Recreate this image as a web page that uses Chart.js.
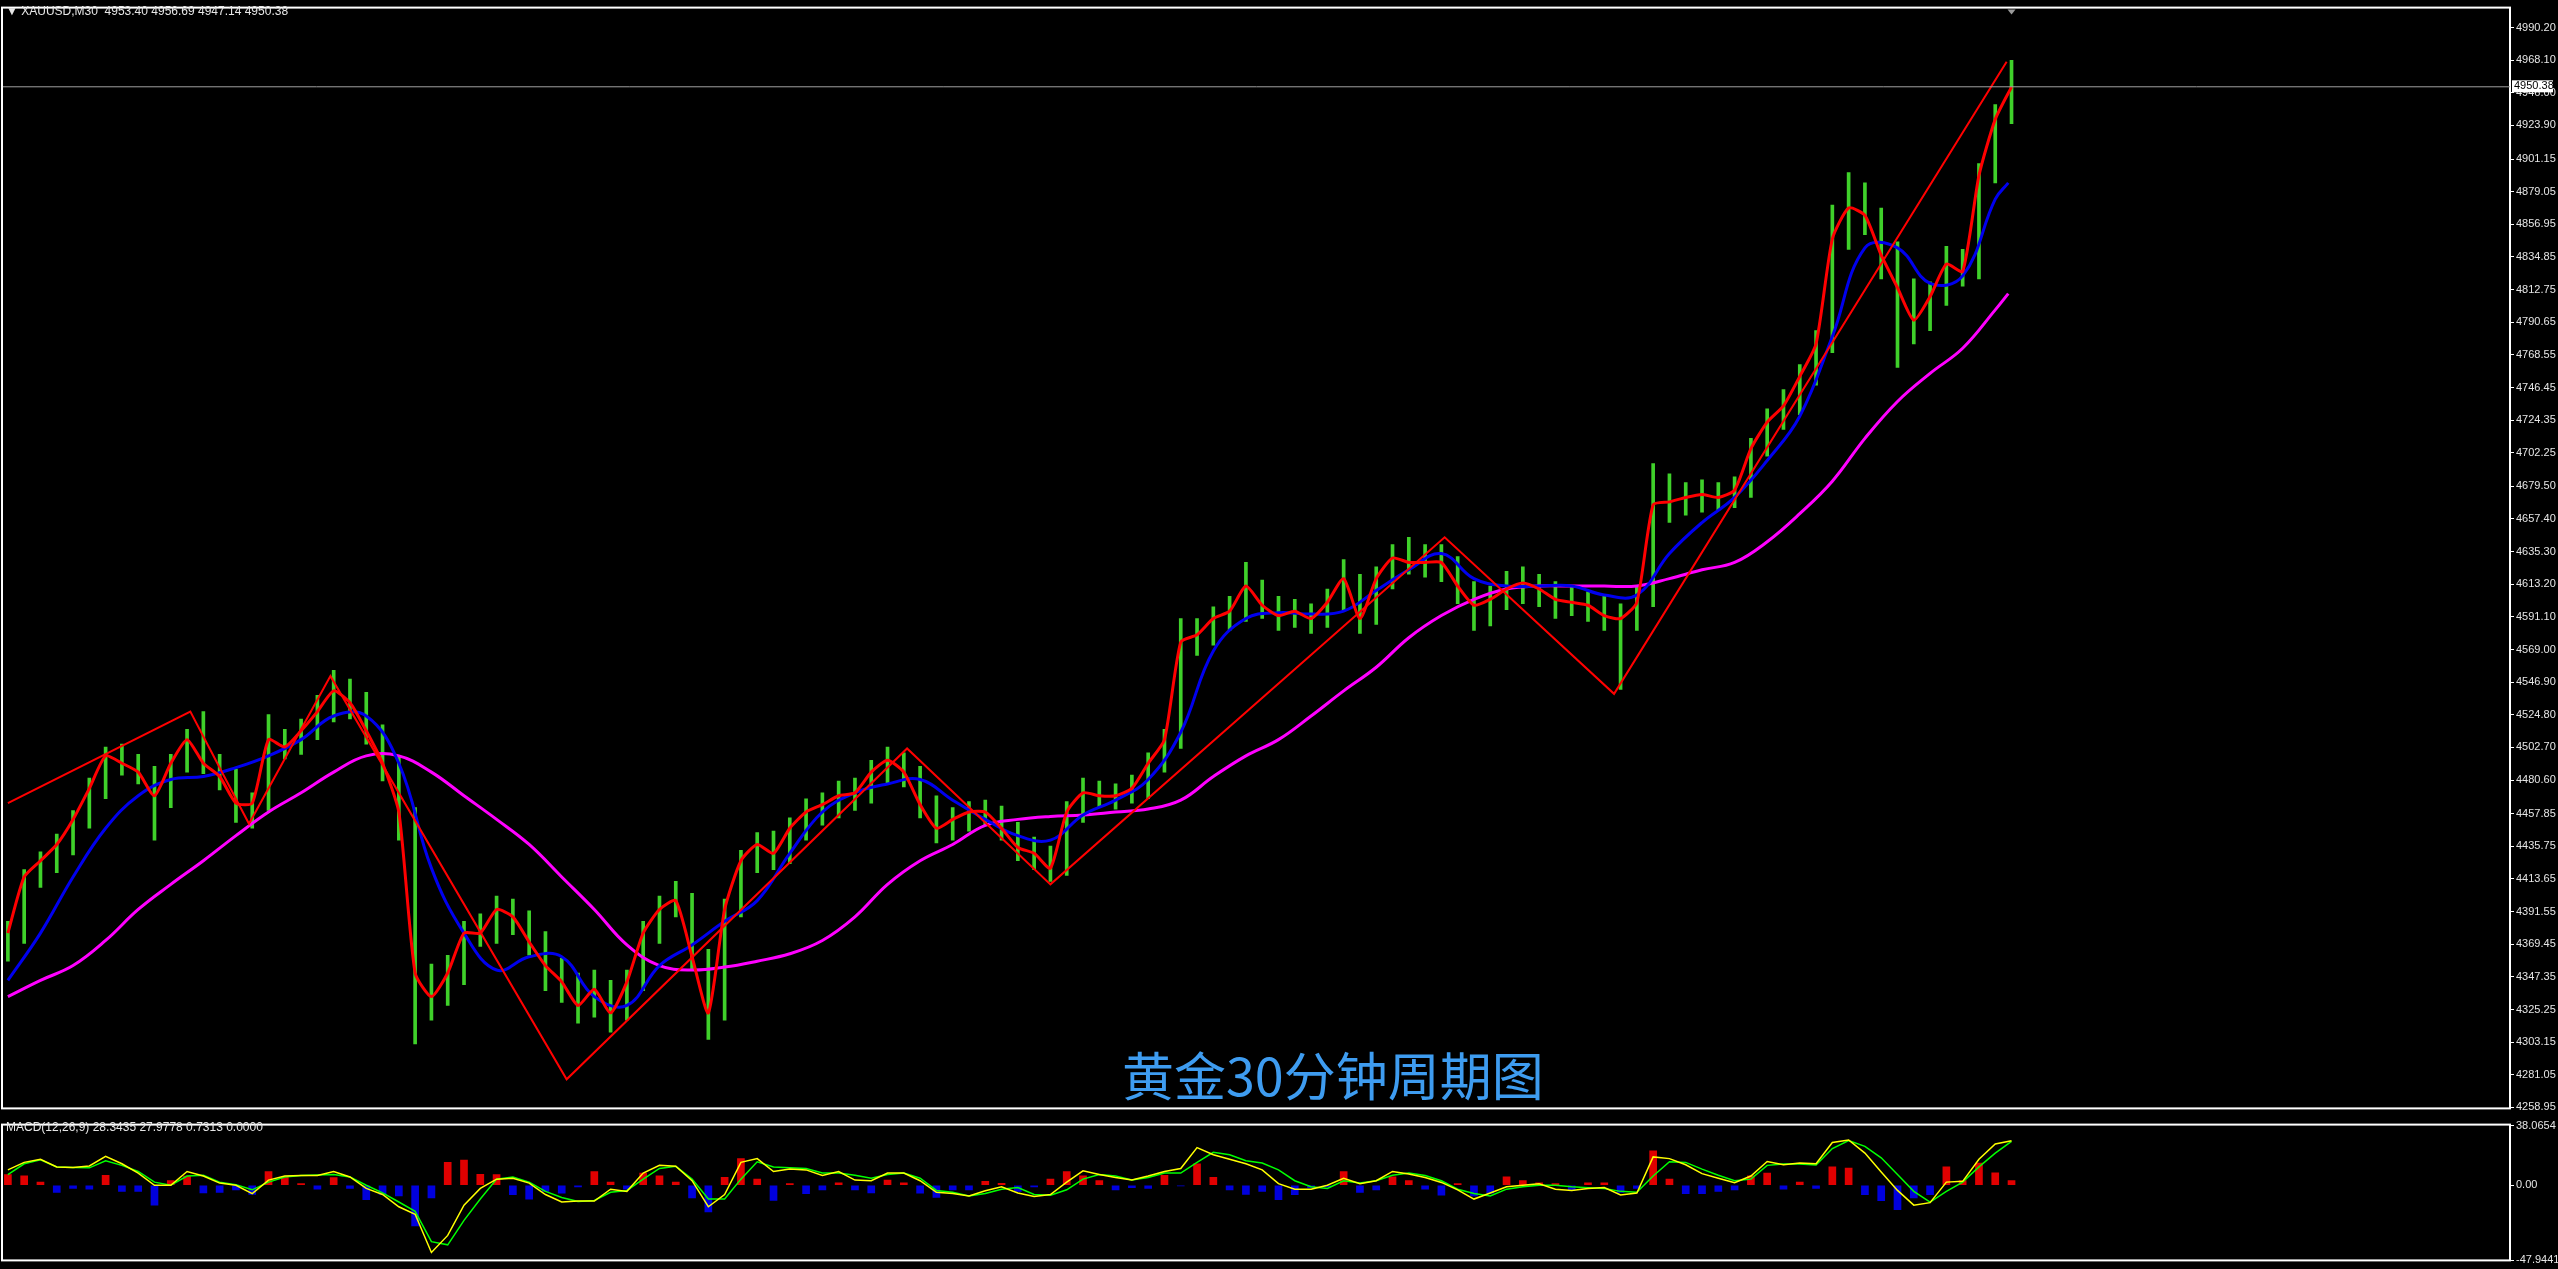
<!DOCTYPE html>
<html><head><meta charset="utf-8">
<script src="https://cdn.jsdelivr.net/npm/chart.js@4.4.1/dist/chart.umd.min.js"></script>
<style>
html,body{margin:0;padding:0;background:#000;overflow:hidden;width:2558px;height:1269px;}
#w1{position:absolute;left:0;top:0;width:2558px;height:1117px;}
#w2{position:absolute;left:0;top:1117px;width:2558px;height:152px;}
.t{position:absolute;color:#e6e6e6;font:12px "Liberation Sans",sans-serif;white-space:nowrap;}
#title{position:absolute;left:1122px;top:1036px;color:#3e9cf0;font:52px "Noto Sans CJK SC",sans-serif;white-space:nowrap;}
</style></head><body>
<div id="w1"><canvas id="c1"></canvas></div>
<div id="w2"><canvas id="c2"></canvas></div>
<div class="t" style="left:6px;top:4px;">▼ XAUUSD,M30&nbsp; 4953.40 4956.69 4947.14 4950.38</div>
<div class="t" style="left:6px;top:1120px;">MACD(12,26,9) 28.3435 27.9778 0.7313 0.0000</div>
<div id="title">黄金30分钟周期图</div>
<script>
// ---- data ----
const closes=[4377,4415,4426,4437,4454,4475,4497,4492,4486,4470,4492,4508,4492,4483,4465,4465,4508,4503,4514,4527,4541,4533,4514,4492,4459,4350,4334,4350,4377,4377,4393,4388,4371,4355,4344,4328,4339,4323,4344,4377,4393,4399,4361,4323,4393,4426,4437,4431,4448,4459,4464,4470,4472,4486,4494,4486,4464,4448,4454,4459,4459,4448,4435,4431,4421,4459,4472,4470,4470,4475,4492,4508,4574,4579,4590,4595,4612,4599,4592,4595,4590,4601,4617,4590,4617,4631,4628,4628,4628,4612,4599,4603,4610,4614,4610,4603,4601,4599,4592,4590,4601,4667,4669,4672,4674,4672,4677,4705,4723,4734,4754,4776,4847,4868,4863,4836,4814,4792,4808,4830,4825,4890,4928,4950];
const highs=[4385,4420,4432,4444,4460,4482,4503,4505,4498,4490,4498,4515,4527,4498,4488,4472,4525,4515,4522,4538,4555,4549,4540,4518,4497,4462,4356,4362,4385,4390,4402,4400,4392,4378,4360,4350,4352,4345,4352,4385,4402,4412,4404,4366,4400,4433,4445,4446,4455,4468,4472,4480,4482,4494,4503,4499,4490,4470,4462,4466,4467,4463,4452,4442,4436,4466,4482,4480,4478,4484,4499,4515,4590,4590,4598,4605,4628,4616,4605,4603,4600,4610,4630,4620,4625,4640,4645,4640,4640,4632,4615,4612,4622,4625,4620,4615,4612,4608,4606,4600,4612,4695,4688,4682,4684,4682,4686,4712,4732,4745,4762,4785,4870,4892,4885,4868,4845,4820,4818,4842,4840,4898,4938,4968];
const lows=[4358,4370,4408,4418,4430,4448,4468,4484,4478,4440,4462,4486,4485,4474,4452,4448,4460,4495,4498,4508,4520,4522,4505,4480,4440,4302,4318,4328,4342,4368,4370,4376,4362,4338,4330,4316,4320,4310,4318,4338,4370,4388,4352,4305,4318,4388,4418,4420,4424,4440,4450,4455,4460,4465,4478,4476,4455,4438,4440,4446,4450,4440,4426,4420,4412,4416,4452,4462,4461,4465,4468,4486,4502,4565,4572,4582,4588,4590,4582,4584,4580,4584,4595,4580,4586,4610,4620,4618,4615,4600,4582,4585,4596,4600,4598,4590,4592,4588,4582,4542,4582,4598,4655,4660,4662,4663,4665,4672,4700,4718,4728,4748,4770,4840,4850,4820,4760,4776,4785,4802,4815,4820,4885,4925];
const maFast=[4345,4377,4415,4448,4470,4481,4483,4489,4497,4508,4524,4524,4492,4421,4377,4352,4361,4361,4334,4328,4355,4369,4385,4399,4431,4459,4472,4478,4481,4467,4454,4443,4440,4457,4467,4481,4513,4568,4590,4594,4593,4595,4609,4623,4634,4617,4612,4612,4612,4606,4606,4634,4655,4672,4697,4727,4781,4841,4841,4817,4822,4874,4885];
const maSlow=[4334,4345,4355,4372,4393,4410,4426,4443,4459,4472,4486,4497,4497,4486,4470,4454,4437,4415,4393,4369,4355,4352,4354,4358,4363,4372,4388,4410,4426,4437,4450,4454,4456,4457,4459,4461,4467,4483,4497,4508,4524,4541,4557,4577,4592,4603,4610,4612,4612,4612,4612,4617,4623,4628,4642,4661,4683,4712,4737,4756,4773,4799,4810];
const zzX=[0,11.2,14.8,19.8,34.3,55.2,64,88.2,98.6,122.7];
const zzY=[4465,4527,4451,4551,4278,4502,4410,4645,4539,4967];
const macdMain=[9.8,14.6,16.6,11.7,11.3,12.3,18.5,13.7,7.8,0,0,8.8,5.9,1.4,0,-5.3,3.3,5.9,6.2,6.2,8.8,5.3,-2,-5.9,-13.7,-18.5,-42.9,-32,-12.7,-2,3.9,4.5,1.4,-5.9,-10.7,-10.1,-10.1,-2.5,-3.9,7.8,12.7,12.1,2.9,-13.7,-5.9,14.6,17,8.8,10.3,9.8,6.2,8.8,3.3,2.9,7.8,7.8,2.9,-4.5,-5.3,-6.8,-3.5,-1,-4.9,-7.2,-5.9,2,9.2,6.8,4.9,3.3,5.9,8.8,10.7,24,19.5,16.6,13.7,9.8,1,-2.5,-2.5,0,4.5,1,2.9,8.8,7.2,4.9,1.8,-2.9,-8.8,-4.9,-1,0,1,-2.5,-3.3,-2,-1.4,-6.2,-4.9,18.1,17,13.1,7.4,4.5,1.6,5.9,15.2,13.1,14.2,13.7,27.3,28.9,20.5,8.4,-3.3,-12.7,-11.1,2,2.5,16.6,26.3,28.34];
const macdSignal=[6.8,13.7,16.2,11.7,11.3,11.1,15.6,12.7,8.8,2,0,5.9,6.4,2,0.4,-2.9,2,5.3,6.2,6.6,6.8,5.3,0,-4.9,-10.7,-16.6,-36,-38,-22.4,-8.8,3.9,5.3,2,-3.9,-7.8,-10.3,-9.75,-4.5,-3.3,3.9,10.7,12.1,3.9,-8.8,-8.8,3.9,15,11.7,11.1,10.7,7.8,7.8,6.4,4.5,6.8,7.8,4.5,-3.3,-4.5,-6.8,-5.3,-2.5,-1.4,-5.9,-6.4,-2.9,3.9,6.8,5.9,3.3,4.9,7.8,7.8,14.6,21,19.5,15.6,14.2,9.8,2.9,-1,-2,2.9,1.4,2.9,6.4,7.8,6.2,2.9,-2.5,-5.3,-6.8,-2.5,-1,0,0,-1,-1.6,-2,-3.9,-4.5,5.9,15,14.6,10.3,6.4,2.9,3.9,12.7,13.5,13.5,12.9,23.4,28.5,24.8,17.5,6.8,-3.9,-10.7,-3.9,2,11.7,20.5,27.98];
const macdHist=[6.8,6,2,-4.5,-2,-2.5,6.4,-3.9,-4,-12.7,3,5.9,-4.9,-4.5,-3,-5.9,8.8,5,1,-2.5,4.9,-2,-9.2,-5.9,-6.8,-26,-8,14.6,16,7,6.8,-6,-8.8,-4,-5,-1,8.8,2,-2.5,7.8,6,2,-8,-17,5,17,4,-9.75,1,-5.3,-3,1.6,-3,-4.9,3.3,1.5,-5,-7.8,-3,-3,2.5,1.2,-3.9,-1,4,8.8,6,3,-3,-1.5,-2,6.4,-0.5,13.7,5,-3,-5.9,-4,-9.2,-6,-1.5,-1,8.8,-4.5,-3,5.3,3,-2.5,-6.4,1,-6.8,-5,5.3,3,1.5,1,-3.3,1.5,1.5,-4.5,-2,22,4,-5.3,-5.3,-4,-3,6,7.8,-2.5,2,-2,11.7,11,-6,-9.8,-15.6,-8,-6,11.7,3,14.2,8,3];
const priceTicks=[4990.20,4968.10,4946.00,4923.90,4901.15,4879.05,4856.95,4834.85,4812.75,4790.65,4768.55,4746.45,4724.35,4702.25,4679.50,4657.40,4635.30,4613.20,4591.10,4569.00,4546.90,4524.80,4502.70,4480.60,4457.85,4435.75,4413.65,4391.55,4369.45,4347.35,4325.25,4303.15,4281.05,4258.95];
const macdTicks=[38.0654,0,-47.9441];
const lastPrice=4950.38;

// ---- drawing ----
Chart.defaults.animation=false;
Chart.defaults.font.family='"Liberation Sans",sans-serif';
Chart.defaults.font.size=11;
const XMIN=-0.3, XMAX=153.6;
const idx=a=>a.map((v,i)=>({x:i,y:v}));
const idx2=a=>a.map((v,i)=>({x:Math.min(i*2,122.8),y:v}));
const frame={id:'frame',afterDraw(c){const a=c.chartArea,g=c.ctx;g.save();g.strokeStyle='#fff';g.lineWidth=2;
 g.strokeRect(a.left-1,a.top-1,a.right-a.left+1,a.bottom-a.top+1);g.restore();}};
const priceTag={id:'tag',afterDraw(c){const a=c.chartArea,g=c.ctx,y=c.scales.y.getPixelForValue(lastPrice);g.save();
 g.strokeStyle='#a0a0a0';g.lineWidth=1;g.beginPath();g.moveTo(a.left,y+0.5);g.lineTo(a.right,y+0.5);g.stroke();
 g.fillStyle='#fff';g.fillRect(a.right+2,y-6,41,12);g.fillStyle='#000';g.font='11px "Liberation Sans",sans-serif';g.textBaseline='middle';g.fillText(lastPrice.toFixed(2),a.right+4,y);
 const tx=c.scales.x.getPixelForValue(123);g.fillStyle='#9a9a9a';g.beginPath();g.moveTo(tx-4,a.top+1);g.lineTo(tx+4,a.top+1);g.lineTo(tx,a.top+6);g.fill();g.restore();}};
const yAxisCommon={position:'right',grid:{drawOnChartArea:false,color:'#fff',tickLength:4,lineWidth:1},border:{color:'#fff'},ticks:{color:'#e6e6e6',padding:2,autoSkip:false}};

new Chart(document.getElementById('c1'),{
 type:'bar',
 data:{datasets:[
  {type:'line',data:zzX.map((x,i)=>({x,y:zzY[i]})),borderColor:'#ff0000',borderWidth:2,pointRadius:0,order:1},
  {type:'line',data:idx(closes),borderColor:'#ff0000',borderWidth:3,pointRadius:0,tension:0.2,order:2},
  {type:'line',data:idx2(maFast),borderColor:'#0000ee',borderWidth:3,pointRadius:0,tension:0.4,order:3},
  {type:'line',data:idx2(maSlow),borderColor:'#ff00ff',borderWidth:3,pointRadius:0,tension:0.4,order:4},
  {type:'bar',data:closes.map((c,i)=>({x:i,y:[lows[i],highs[i]]})),backgroundColor:'#3fd12a',barThickness:3,order:5}
 ]},
 options:{responsive:true,maintainAspectRatio:false,layout:{padding:{left:3,top:3,bottom:2,right:0}},
  plugins:{legend:{display:false},tooltip:{enabled:false}},
  scales:{x:{type:'linear',offset:false,min:XMIN,max:XMAX,display:false},
   y:{...yAxisCommon,min:4258.3,max:5003.0,afterFit(s){s.width=48;},afterBuildTicks(s){s.ticks=priceTicks.map(v=>({value:v}));},
     ticks:{...yAxisCommon.ticks,callback:v=>Number(v).toFixed(2)}}}},
 plugins:[frame,priceTag]});

new Chart(document.getElementById('c2'),{
 type:'bar',
 data:{datasets:[
  {type:'line',data:idx(macdMain),borderColor:'#ffff00',borderWidth:1.5,pointRadius:0,order:1},
  {type:'line',data:idx(macdSignal),borderColor:'#00ff00',borderWidth:1.5,pointRadius:0,order:2},
  {type:'bar',data:idx(macdHist),backgroundColor:macdHist.map(v=>v>=0?'#e00000':'#0000dd'),barThickness:7,order:3}
 ]},
 options:{responsive:true,maintainAspectRatio:false,layout:{padding:{left:3,top:1,bottom:5,right:0}},
  plugins:{legend:{display:false},tooltip:{enabled:false}},
  scales:{x:{type:'linear',offset:false,min:XMIN,max:XMAX,display:false},
   y:{...yAxisCommon,min:-47.9441,max:38.0654,afterFit(s){s.width=48;},afterBuildTicks(s){s.ticks=macdTicks.map(v=>({value:v}));},
     ticks:{...yAxisCommon.ticks,callback:v=>v===0?'0.00':String(v)}}}},
 plugins:[frame]});
</script>
</body></html>
